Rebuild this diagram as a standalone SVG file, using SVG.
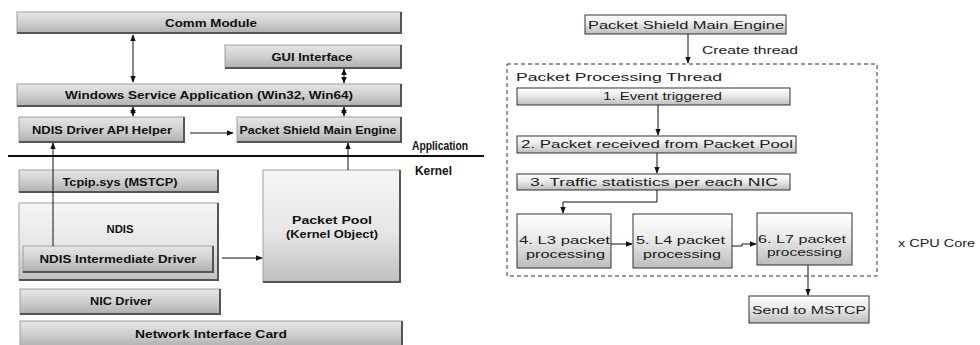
<svg xmlns="http://www.w3.org/2000/svg" width="980" height="345" viewBox="0 0 980 345">
<defs>
<linearGradient id="gL" x1="0" y1="0" x2="0" y2="1">
<stop offset="0" stop-color="#e6e6e6"/><stop offset="0.5" stop-color="#cfcfcf"/><stop offset="1" stop-color="#b0b0b0"/>
</linearGradient>
<linearGradient id="gT" x1="0" y1="0" x2="0" y2="1">
<stop offset="0" stop-color="#f6f6f6"/><stop offset="0.55" stop-color="#e6e6e6"/><stop offset="1" stop-color="#c0c0c0"/>
</linearGradient>
<linearGradient id="gR" x1="0" y1="0" x2="0" y2="1">
<stop offset="0" stop-color="#ffffff"/><stop offset="0.45" stop-color="#ebebeb"/><stop offset="1" stop-color="#bcbcbc"/>
</linearGradient>
<marker id="ah" viewBox="0 0 10 10" refX="9" refY="5" markerWidth="7" markerHeight="7" orient="auto-start-reverse" markerUnits="userSpaceOnUse">
<path d="M0,1 L10,5 L0,9 Z" fill="#111"/>
</marker>
</defs>
<style>
.lb{fill:url(#gL);stroke:#a0a0a0;stroke-width:1}
.lt{fill:url(#gT);stroke:#a0a0a0;stroke-width:1}
.sh{stroke:#555;stroke-width:2;fill:none}
.tl{font-family:"Liberation Sans",Arial,sans-serif;font-weight:bold;font-size:11px;fill:#111;text-anchor:middle}
.tk{font-family:"Liberation Sans",Arial,sans-serif;font-weight:bold;font-size:12px;fill:#111}
.rb{fill:url(#gR);stroke:#333;stroke-width:1}
.tr{font-family:"Liberation Sans",Arial,sans-serif;font-size:11px;fill:#1a1a1a}
.c{stroke:#111;stroke-width:1;fill:none}
.ca{stroke:#111;stroke-width:1;fill:none;marker-end:url(#ah)}
.cb{stroke:#111;stroke-width:1;fill:none;marker-end:url(#ah);marker-start:url(#ah)}
.dash{fill:none;stroke:#333;stroke-width:1;stroke-dasharray:4,3}
</style>

<!-- Left: architecture -->
<g id="comm-module">
<rect class="lb" x="17" y="12" width="384" height="21"/>
<path class="sh" d="M17,33 H401 V12"/>
<text class="tl" x="211" y="27" textLength="92" lengthAdjust="spacingAndGlyphs">Comm Module</text>
</g>
<g id="gui-interface">
<rect class="lb" x="225" y="45" width="176" height="23"/>
<path class="sh" d="M225,68 H401 V45"/>
<text class="tl" x="312" y="61" textLength="81" lengthAdjust="spacingAndGlyphs">GUI Interface</text>
</g>
<g id="windows-service">
<rect class="lb" x="17" y="84" width="384" height="22"/>
<path class="sh" d="M17,106 H401 V84"/>
<text class="tl" x="209" y="99" textLength="288" lengthAdjust="spacingAndGlyphs">Windows Service Application (Win32, Win64)</text>
</g>
<g id="ndis-api-helper">
<rect class="lb" x="19" y="117" width="165" height="25"/>
<path class="sh" d="M19,142 H184 V117"/>
<text class="tl" x="102" y="134" textLength="140" lengthAdjust="spacingAndGlyphs">NDIS Driver API Helper</text>
</g>
<g id="psme-left">
<rect class="lb" x="237" y="117" width="164" height="25"/>
<path class="sh" d="M237,142 H401 V117"/>
<text class="tl" x="318" y="134" textLength="157" lengthAdjust="spacingAndGlyphs">Packet Shield Main Engine</text>
</g>
<g id="layer-line">
<line x1="8" y1="156" x2="484" y2="156" stroke="#111" stroke-width="2"/>
<text class="tk" x="412" y="150" textLength="56" lengthAdjust="spacingAndGlyphs">Application</text>
<text class="tk" x="415" y="175" textLength="37" lengthAdjust="spacingAndGlyphs">Kernel</text>
</g>
<g id="tcpip">
<rect class="lb" x="19" y="170" width="199" height="22"/>
<path class="sh" d="M19,192 H218 V170"/>
<text class="tl" x="120" y="186" textLength="115" lengthAdjust="spacingAndGlyphs">Tcpip.sys (MSTCP)</text>
</g>
<g id="ndis">
<rect class="lt" x="19" y="203" width="199" height="77"/>
<path class="sh" d="M19,280 H218 V203"/>
<text class="tl" x="120" y="233" textLength="27" lengthAdjust="spacingAndGlyphs">NDIS</text>
</g>
<g id="ndis-intermediate">
<rect class="lb" x="23" y="246" width="190" height="26"/>
<path class="sh" d="M23,272 H213 V246"/>
<text class="tl" x="118" y="263" textLength="157" lengthAdjust="spacingAndGlyphs">NDIS Intermediate Driver</text>
</g>
<g id="packet-pool">
<rect class="lt" x="263" y="170" width="137" height="112"/>
<path class="sh" d="M263,282 H400 V170"/>
<text class="tl" x="332" y="224" textLength="80" lengthAdjust="spacingAndGlyphs">Packet Pool</text>
<text class="tl" x="332" y="238" textLength="92" lengthAdjust="spacingAndGlyphs">(Kernel Object)</text>
</g>
<g id="nic-driver">
<rect class="lb" x="20" y="289" width="200" height="25"/>
<path class="sh" d="M20,314 H220 V289"/>
<text class="tl" x="121" y="305" textLength="62" lengthAdjust="spacingAndGlyphs">NIC Driver</text>
</g>
<g id="network-interface-card">
<rect class="lb" x="20" y="321" width="382" height="26"/>
<path class="sh" d="M402,321 V347"/>
<text class="tl" x="211" y="338" textLength="152" lengthAdjust="spacingAndGlyphs">Network Interface Card</text>
</g>

<!-- Right: thread flow -->
<g id="psme-right">
<rect class="rb" x="585" y="15" width="201" height="19"/>
<text class="tr" x="588" y="29" textLength="196" lengthAdjust="spacingAndGlyphs">Packet Shield Main Engine</text>
</g>
<g id="thread-container">
<rect class="dash" x="507" y="64" width="370" height="212"/>
<text class="tr" x="702" y="54" textLength="96" lengthAdjust="spacingAndGlyphs">Create thread</text>
<text class="tr" x="516" y="81" textLength="206" lengthAdjust="spacingAndGlyphs">Packet Processing Thread</text>
</g>
<g id="step1">
<rect class="rb" x="517" y="88" width="273" height="17"/>
<text class="tr" x="603" y="100" textLength="119" lengthAdjust="spacingAndGlyphs">1. Event triggered</text>
</g>
<g id="step2">
<rect class="rb" x="517" y="136" width="279" height="17"/>
<text class="tr" x="521" y="148" textLength="272" lengthAdjust="spacingAndGlyphs">2. Packet received from Packet Pool</text>
</g>
<g id="step3">
<rect class="rb" x="517" y="174" width="273" height="16"/>
<text class="tr" x="530" y="186" textLength="248" lengthAdjust="spacingAndGlyphs">3. Traffic statistics per each NIC</text>
</g>
<g id="step4">
<rect class="rb" x="517" y="214" width="94" height="54"/>
<text class="tr" x="519" y="244" textLength="91" lengthAdjust="spacingAndGlyphs">4. L3 packet</text>
<text class="tr" x="526" y="258" textLength="79" lengthAdjust="spacingAndGlyphs">processing</text>
</g>
<g id="step5">
<rect class="rb" x="633" y="214" width="99" height="54"/>
<text class="tr" x="636" y="244" textLength="89" lengthAdjust="spacingAndGlyphs">5. L4 packet</text>
<text class="tr" x="643" y="258" textLength="78" lengthAdjust="spacingAndGlyphs">processing</text>
</g>
<g id="step6">
<rect class="rb" x="757" y="213" width="95" height="52"/>
<text class="tr" x="758" y="243" textLength="88" lengthAdjust="spacingAndGlyphs">6. L7 packet</text>
<text class="tr" x="767" y="256" textLength="75" lengthAdjust="spacingAndGlyphs">processing</text>
</g>
<g id="send-mstcp">
<rect class="rb" x="749" y="296" width="120" height="27"/>
<text class="tr" x="752" y="314" textLength="114" lengthAdjust="spacingAndGlyphs">Send to MSTCP</text>
</g>
<g id="cpu-core-note">
<text class="tr" x="898" y="247" textLength="77" lengthAdjust="spacingAndGlyphs">x CPU Core</text>
</g>

<g id="connectors">
<line class="cb" x1="133" y1="35" x2="133" y2="82"/>
<line class="cb" x1="344" y1="69" x2="344" y2="83"/>
<line class="cb" x1="133" y1="107" x2="133" y2="116"/>
<line class="cb" x1="344" y1="107" x2="344" y2="116"/>
<line class="ca" x1="190" y1="133" x2="233" y2="133"/>
<line class="ca" x1="53" y1="246" x2="53" y2="143"/>
<line class="ca" x1="348" y1="170" x2="348" y2="143"/>
<line class="ca" x1="222" y1="258" x2="262" y2="258"/>
<line class="ca" x1="688" y1="34" x2="688" y2="63"/>
<line class="ca" x1="658" y1="105" x2="658" y2="135"/>
<line class="ca" x1="657" y1="153" x2="657" y2="173"/>
<polyline class="ca" points="657,190 657,202 563,202 563,213"/>
<line class="ca" x1="611" y1="244" x2="632" y2="244"/>
<polyline class="ca" points="732,246 742,246 742,244 756,244"/>
<line class="ca" x1="808" y1="265" x2="808" y2="295"/>
</g>
</svg>
